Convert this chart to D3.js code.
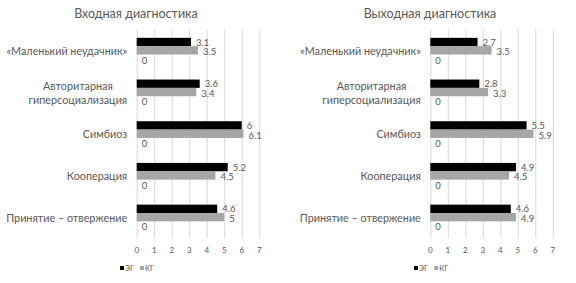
<!DOCTYPE html>
<html>
<head>
<meta charset="utf-8">
<script src="https://cdn.jsdelivr.net/npm/d3@7"></script>
<style>
  body { margin: 0; background: #fff; }
  svg { font-family: Lato, "Open Sans", sans-serif; }
</style>
</head>
<body>
<svg id="chart" width="576" height="283"></svg>
<script>
// categories, top to bottom
const categories = ['«Маленький неудачник»', 'Авторитарная\nгиперсоциализация', 'Симбиоз', 'Кооперация', 'Принятие – отвержение'];
const seriesNames = ['ЭГ', 'КГ'];
const ticks = [0, 1, 2, 3, 4, 5, 6, 7];

// Входная диагностика
const inEG = [3.1, 3.6, 6, 5.2, 4.6];
const inKG = [3.5, 3.4, 6.1, 4.5, 5];
// Выходная диагностика
const outEG = [2.7, 2.8, 5.5, 4.9, 4.6];
const outKG = [3.5, 3.3, 5.9, 4.5, 4.9];
// third (empty) series, shows only its "0" label
const zeroSeries = [0, 0, 0, 0, 0];

const colors = ['#000000', '#a6a6a6', '#ffffff'];
const labelShift = [0, 1.5, 1.5];
const textColor = '#595959';

const svg = d3.select('#chart');

function drawPanel(opts) {
    const g = svg.append('g');
    const x = d3.scaleLinear().domain([0, 7]).range([opts.x0, opts.x0 + 7 * 17.5]);
    const y = d3.scaleBand().domain(categories).range([29.5, 238]);
    const inner = d3.scaleBand().domain([0, 1, 2]).range([0, y.bandwidth()]).paddingOuter(1).paddingInner(0);

    // title
    g.append('text')
        .attr('x', opts.titleX)
        .attr('y', 13)
        .attr('text-anchor', 'middle')
        .attr('dominant-baseline', 'central')
        .attr('fill', textColor)
        .style('font-size', '12.5px')
        .text(opts.title);

    // gridlines
    g.selectAll('line.grid')
        .data(ticks)
        .enter()
        .append('line')
        .attr('class', 'grid')
        .attr('x1', d => x(d) + 0.5)
        .attr('x2', d => x(d) + 0.5)
        .attr('y1', 29.5)
        .attr('y2', 238)
        .attr('stroke', '#d9d9d9')
        .attr('stroke-width', 1);

    // tick labels
    g.selectAll('text.tick')
        .data(ticks)
        .enter()
        .append('text')
        .attr('class', 'tick')
        .attr('x', d => x(d))
        .attr('y', 250)
        .attr('text-anchor', 'middle')
        .attr('dominant-baseline', 'central')
        .attr('fill', textColor)
        .style('font-size', '8px')
        .text(d => d);

    // category labels
    categories.forEach(function (c) {
        const lines = c.split('\n');
        const cy = y(c) + y.bandwidth() / 2;
        const t = g.append('text')
            .attr('fill', textColor)
            .style('font-size', '10.8px')
            .attr('dominant-baseline', 'central');
        const right = opts.x0 - 9.5;
        if (lines.length === 1) {
            t.attr('x', right).attr('y', cy).attr('text-anchor', 'end').text(c);
        } else {
            t.attr('text-anchor', 'middle');
            const spans = lines.map(function (l, i) {
                return t.append('tspan')
                    .attr('y', cy + (i - (lines.length - 1) / 2) * 14)
                    .text(l);
            });
            const w = d3.max(spans, s => s.node().getComputedTextLength());
            spans.forEach(s => s.attr('x', right - w / 2));
        }
    });

    // bars
    const series = [opts.eg, opts.kg, zeroSeries];
    series.forEach(function (vals, si) {
        const bars = g.append('g');
        bars.selectAll('rect')
            .data(vals)
            .enter()
            .append('rect')
            .attr('x', x(0))
            .attr('y', (d, i) => y(categories[i]) + inner(si))
            .attr('width', d => x(d) - x(0))
            .attr('height', inner.bandwidth())
            .attr('fill', colors[si]);
        bars.selectAll('text')
            .data(vals)
            .enter()
            .append('text')
            .attr('x', d => x(d) + 5)
            .attr('y', (d, i) => y(categories[i]) + inner(si) + inner.bandwidth() / 2 + labelShift[si])
            .attr('dominant-baseline', 'central')
            .attr('fill', textColor)
            .style('font-size', '9.5px')
            .text(d => d);
    });

    // legend
    const lg = g.append('g');
    seriesNames.forEach(function (name, i) {
        const lx = opts.legendX[i];
        lg.append('rect')
            .attr('x', lx)
            .attr('y', 266)
            .attr('width', 4)
            .attr('height', 4)
            .attr('fill', colors[i]);
        lg.append('text')
            .attr('x', lx + 5)
            .attr('y', 268)
            .attr('dominant-baseline', 'central')
            .attr('fill', textColor)
            .style('font-size', '7.5px')
            .text(name);
    });
}

drawPanel({x0: 136.7, titleX: 136, title: 'Входная диагностика', eg: inEG, kg: inKG, legendX: [120, 140]});
drawPanel({x0: 430.3, titleX: 430, title: 'Выходная диагностика', eg: outEG, kg: outKG, legendX: [414, 434.3]});
</script>
</body>
</html>
